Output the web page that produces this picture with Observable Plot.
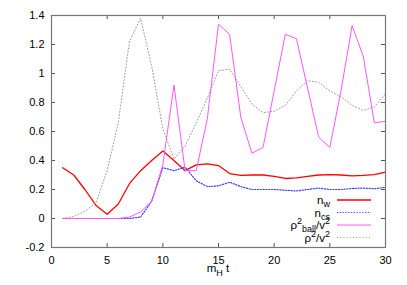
<!DOCTYPE html>
<html><head><meta charset="utf-8">
<script src="https://cdn.jsdelivr.net/npm/d3@7"></script>
<script src="https://cdn.jsdelivr.net/npm/@observablehq/plot@0.6"></script>
<style>body{margin:0;background:#fff}svg{display:block}</style>
</head><body><div id="chart"></div>
<script>
const t = [1,2,3,4,5,6,7,8,9,10,11,12,13,14,15,16,17,18,19,20,21,22,23,24,25,26,27,28,29,30];
const nW = [0.35,0.30,0.20,0.09,0.03,0.10,0.24,0.33,0.40,0.465,0.40,0.33,0.37,0.377,0.365,0.31,0.297,0.30,0.30,0.29,0.276,0.28,0.29,0.30,0.303,0.30,0.294,0.297,0.303,0.32];
const nCs = [0,0,0,0,0,0,0,0.01,0.12,0.35,0.33,0.355,0.26,0.22,0.225,0.25,0.22,0.20,0.20,0.20,0.195,0.19,0.20,0.21,0.20,0.20,0.207,0.21,0.205,0.215];
const rhoBall = [0,0,0,0,0,0,0.01,0.045,0.12,0.37,0.92,0.33,0.33,0.69,1.34,1.27,0.70,0.45,0.49,0.88,1.27,1.24,0.90,0.56,0.49,0.88,1.33,1.12,0.66,0.67];
const rho = [0,0.014,0.05,0.11,0.33,0.66,1.22,1.38,1.05,0.62,0.41,0.50,0.66,0.83,1.02,1.03,0.91,0.79,0.73,0.74,0.78,0.88,0.95,0.94,0.88,0.84,0.78,0.745,0.77,0.86];
const xTicks = [0,5,10,15,20,25,30];
const yTicks = [-0.2,0,0.2,0.4,0.6,0.8,1,1.2,1.4];

const W = 407, H = 285, mL = 51, mR = 22, mT = 15, mB = 38;
const innerW = W - mL - mR, innerH = H - mT - mB, tk = 4;
const font = "'Liberation Sans', Arial, Helvetica, sans-serif";

const series = [
  {key: "nW", values: nW, stroke: "#ff0000", width: 1.3, dash: null},
  {key: "nCs", values: nCs, stroke: "#3a3aff", width: 1.2, dash: "1.2,1.6"},
  {key: "rhoBall", values: rhoBall, stroke: "#ff55ff", width: 1, dash: null},
  {key: "rho", values: rho, stroke: "#999999", width: 1, dash: "1,2.2"}
];

const marks = [];
for (const s of series) {
  const rows = t.map((tt, i) => ({t: tt, v: s.values[i]}));
  marks.push(Plot.line(rows, {x: "t", y: "v", stroke: s.stroke, strokeWidth: s.width, strokeDasharray: s.dash}));
}

const plot = Plot.plot({
  width: W, height: H,
  marginLeft: mL, marginRight: mR, marginTop: mT, marginBottom: mB,
  style: {fontFamily: font, fontSize: "11px", background: "#fff", color: "#000"},
  x: {domain: [0, 30], ticks: xTicks, tickSize: 0, tickPadding: 9, label: null, tickFormat: d => String(d)},
  y: {domain: [-0.2, 1.4], ticks: yTicks, tickSize: 0, tickPadding: 7, label: null, tickFormat: d => String(d)},
  marks: [
    ...marks,
    Plot.tickX(xTicks, {x: d => d, insetTop: innerH - tk, stroke: "#555"}),
    Plot.tickX(xTicks, {x: d => d, insetBottom: innerH - tk, stroke: "#555"}),
    Plot.tickY(yTicks, {y: d => d, insetRight: innerW - tk, stroke: "#555"}),
    Plot.tickY(yTicks, {y: d => d, insetLeft: innerW - tk, stroke: "#555"}),
    Plot.frame({stroke: "#777", strokeWidth: 1.2})
  ]
});
document.getElementById("chart").appendChild(plot);

const svg = d3.select(plot);
// x-axis label
const xl = svg.append("text").attr("x", mL + innerW / 2).attr("y", 272)
  .attr("text-anchor", "middle").attr("font-family", font).attr("font-size", 11.5).attr("fill", "#000");
xl.append("tspan").text("m");
xl.append("tspan").attr("dy", 4).attr("font-size", 9).text("H");
xl.append("tspan").attr("dy", -4).text(" t");

// legend
const legend = [
  {parts: [["n", 0, 11.5], ["w", 3, 9]], s: series[0]},
  {parts: [["n", 0, 11.5], ["cs", 3, 9]], s: series[1]},
  {parts: [["ρ", 0, 11.5], ["2", -5, 9], ["ball", 8, 9], ["/v", -3, 11.5], ["2", -5, 9]], s: series[2]},
  {parts: [["ρ", 0, 11.5], ["2", -5, 9], ["/v", 5, 11.5], ["2", -5, 9]], s: series[3]}
];
const lg = svg.append("g").attr("font-family", font).attr("fill", "#000");
legend.forEach((it, i) => {
  const y = 200 + i * 12.5;
  const tx = lg.append("text").attr("x", 330).attr("y", y + 4).attr("text-anchor", "end");
  it.parts.forEach(([str, dy, fs]) => tx.append("tspan").attr("dy", dy).attr("font-size", fs).text(str));
  lg.append("line").attr("x1", 337).attr("x2", 371).attr("y1", y).attr("y2", y)
    .attr("stroke", it.s.stroke).attr("stroke-width", it.s.width)
    .attr("stroke-dasharray", it.s.dash);
});
</script></body></html>
